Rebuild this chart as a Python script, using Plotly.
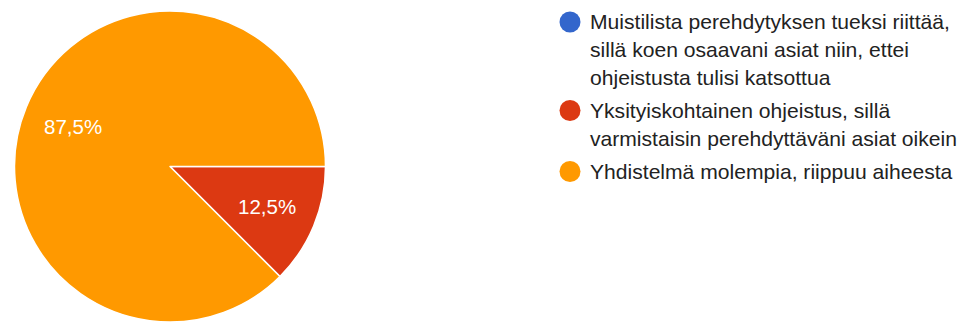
import math
import plotly.graph_objects as go

# Survey answers (response counts) and their colours
labels = [
    "Muistilista perehdytyksen tueksi riittää,<br>sillä koen osaavani asiat niin, ettei<br>ohjeistusta tulisi katsottua",
    "Yksityiskohtainen ohjeistus, sillä<br>varmistaisin perehdyttäväni asiat oikein",
    "Yhdistelmä molempia, riippuu aiheesta",
]
counts = [0, 1, 7]
colors = ["#3366CC", "#DC3912", "#FF9900"]

W, H = 964, 322
FONT = "Liberation Sans, Arial, sans-serif"
FS_PCT = 20.5
FS_LEG = 21.1

# Pie geometry in pixels
M_T, M_B = 11, 0
R = (H - M_T - M_B) / 2
CX, CY = 170, M_T + R
ROT = 90


def px_to_paper(x, y):
    return x / W, (H - M_B - y) / (H - M_T - M_B)


fig = go.Figure(
    go.Pie(
        labels=[l.replace("<br>", " ") for l in labels],
        values=counts,
        marker=dict(colors=colors, line=dict(color="white", width=1.5)),
        sort=False,
        direction="clockwise",
        rotation=ROT,
        textinfo="none",
        hoverinfo="skip",
        showlegend=False,
        domain=dict(x=[(CX - R) / W, (CX + R) / W], y=[0, 1]),
    )
)

annotations = []
shapes = []

# Percentage labels inside the slices, placed along each slice's mid-angle
total = sum(counts)
cum = 0
for v in counts:
    if v > 0:
        frac = v / total
        mid = math.radians(ROT + 360 * (cum + frac / 2))
        d = 0.673 * R
        px, py = CX + d * math.sin(mid), CY - d * math.cos(mid)
        x, y = px_to_paper(px, py)
        pct = f"{100 * frac:.1f}".replace(".", ",") + "%"
        annotations.append(dict(
            x=x, y=y, xref="paper", yref="paper", text=pct, showarrow=False,
            xanchor="center", yanchor="middle",
            font=dict(family=FONT, size=FS_PCT, color="white"),
        ))
    cum += v / total

# Legend with round markers, one text line per annotation
LINE_H = 27.5
GAP = 6
y_line = 22
for lab, col in zip(labels, colors):
    lines = lab.split("<br>")
    cx, cy = px_to_paper(570, y_line)
    shapes.append(dict(
        type="circle", xref="paper", yref="paper",
        xsizemode="pixel", ysizemode="pixel", xanchor=cx, yanchor=cy,
        x0=-10.5, x1=10.5, y0=-10.5, y1=10.5,
        fillcolor=col, line=dict(width=0),
    ))
    for i, t in enumerate(lines):
        x, y = px_to_paper(588, y_line + i * LINE_H)
        annotations.append(dict(
            x=x, y=y, xref="paper", yref="paper", text=t, showarrow=False,
            xanchor="left", yanchor="middle",
            font=dict(family=FONT, size=FS_LEG, color="#222222"),
        ))
    y_line += len(lines) * LINE_H + GAP

fig.update_layout(
    width=W, height=H,
    margin=dict(l=0, r=0, t=M_T, b=M_B),
    paper_bgcolor="white", plot_bgcolor="white",
    annotations=annotations, shapes=shapes,
)

fig.write_html("out.html")
